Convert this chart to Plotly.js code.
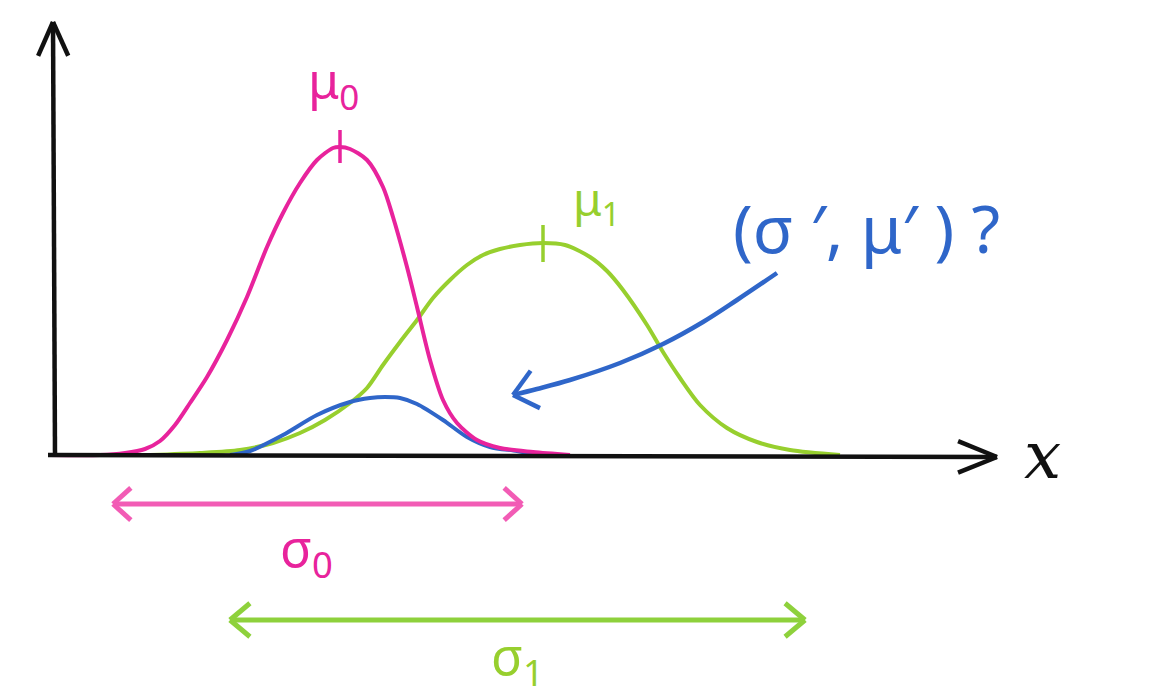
<!DOCTYPE html>
<html>
<head>
<meta charset="utf-8">
<script src="https://cdn.plot.ly/plotly-3.0.1.min.js"></script>
<style>html,body{margin:0;padding:0;background:#fff;}#chart{width:1155px;height:696px;}</style>
</head>
<body>
<div id="chart"></div>
<script>
// ---- values (x position, height above the x axis) ----
const pinkX  = [50, 100, 125, 145, 160, 175, 190, 207, 227, 247, 267, 283, 300, 317, 333, 340, 350, 367, 383, 393, 407, 417, 430, 443, 457, 477, 500, 533, 570];
const pinkY  = [0, 0, 2, 6, 14, 30, 52, 78, 115, 158, 208, 242, 272, 295, 307, 308, 306, 295, 268, 238, 188, 148, 95, 55, 32, 15, 7, 3, 0];

const greenX = [150, 200, 240, 273, 300, 325, 350, 367, 383, 400, 417, 433, 450, 467, 483, 500, 520, 543, 565, 590, 607, 623, 647, 663, 680, 700, 727, 757, 790, 840];
const greenY = [0, 2, 5, 12, 22, 35, 52, 67, 90, 113, 135, 157, 175, 190, 200, 206, 210, 212, 210, 198, 184, 165, 130, 103, 77, 50, 27, 13, 5, 0];

const blueX  = [230, 250, 283, 317, 350, 370, 385, 400, 417, 443, 467, 490, 517, 540];
const blueY  = [0, 4, 20, 40, 53, 57, 58, 57, 51, 35, 18, 8, 4, 0];

const mu0 = 340, mu1 = 543;
const labelMu0 = 'μ<sub>0</sub>';
const labelMu1 = 'μ<sub>1</sub>';
const labelSigma0 = 'σ<sub>0</sub>';
const labelSigma1 = 'σ<sub>1</sub>';
const labelQuestion = '(σ ′, μ′ ) ?';
const labelX = 'x';

// ---- styling ----
const PINK = '#e8239c', GREEN = '#97cf2e', BLUE = '#2f66c9', BLACK = '#111111';
const PINK_LIGHT = '#f25cb5', GREEN_LIGHT = '#8ed13c';
const FONT = 'Noto Sans, DejaVu Sans, sans-serif';

function peakOf(xs, ys, mu) {
  let best = 0, d = Infinity;
  xs.forEach((x, i) => { if (Math.abs(x - mu) < d) { d = Math.abs(x - mu); best = ys[i]; } });
  return best;
}

function line(x0, y0, x1, y1, color, width) {
  return {type: 'line', xref: 'x', yref: 'y', x0, y0, x1, y1,
          line: {color, width}, layer: 'above'};
}
function barbs(tx, ty, fx, fy, len, angDeg, color, width) {
  const a = Math.atan2(fy - ty, fx - tx), r = angDeg * Math.PI / 180;
  return [-1, 1].map(s => line(tx, ty,
    tx + len * Math.cos(a + s * r), ty + len * Math.sin(a + s * r), color, width));
}
function doubleArrow(x0, x1, y, len, ang, color, width) {
  return [line(x0, y, x1, y, color, width),
          ...barbs(x0, y, x1, y, len, ang, color, width),
          ...barbs(x1, y, x0, y, len, ang, color, width)];
}

const shapes = [];
shapes.push(line(48, 0, 997, -2, BLACK, 4.5));
shapes.push(...barbs(997, -2, 48, 0, 42, 22, BLACK, 4.5));
shapes.push(line(55, 0, 53, 433, BLACK, 4.5));
shapes.push(...barbs(53, 433, 55, 0, 37, 24, BLACK, 4.5));
shapes.push(...doubleArrow(113, 522, -49, 24, 42, PINK_LIGHT, 5));
shapes.push(...doubleArrow(230, 805, -165, 26, 40, GREEN_LIGHT, 5));
const p0 = peakOf(pinkX, pinkY, mu0), p1 = peakOf(greenX, greenY, mu1);
shapes.push(line(mu0, p0 - 16, mu0, p0 + 17, PINK, 3.5));
shapes.push(line(mu1, p1 - 19, mu1, p1 + 18, GREEN, 3.5));

// curved pointer arrow
const ptrX = [777, 737, 703, 663, 620, 570, 537, 513];
const ptrY = [182, 155, 133, 111, 92, 75, 66, 60];
shapes.push(...barbs(ptrX[7], ptrY[7], ptrX[6], ptrY[6], 30, 40, BLUE, 4.5));

const traces = [
  {x: greenX, y: greenY, mode: 'lines', line: {color: GREEN, width: 4, shape: 'spline', smoothing: 0.8}, hoverinfo: 'skip'},
  {x: blueX, y: blueY, mode: 'lines', line: {color: BLUE, width: 4, shape: 'spline', smoothing: 0.8}, hoverinfo: 'skip'},
  {x: pinkX, y: pinkY, mode: 'lines', line: {color: PINK, width: 4, shape: 'spline', smoothing: 0.8}, hoverinfo: 'skip'},
  {x: ptrX, y: ptrY, mode: 'lines', line: {color: BLUE, width: 4.5, shape: 'spline', smoothing: 1}, hoverinfo: 'skip'}
];

function label(text, x, y, color, size, family) {
  return {text, x, y, xref: 'x', yref: 'y', showarrow: false,
          font: {color, size, family: family || FONT}, xanchor: 'center', yanchor: 'middle'};
}

const annotations = [
  label(labelMu0, 333, 372, PINK, 50),
  label(labelMu1, 596, 254, GREEN, 46),
  label(labelQuestion, 866, 228, BLUE, 66),
  label(labelSigma0, 306, -95, PINK, 52),
  label(labelSigma1, 517, -203, GREEN, 52),
  label('<i>' + labelX + '</i>', 1042, 0, BLACK, 66, 'DejaVu Serif, serif')
];

const layout = {
  width: 1155, height: 696,
  margin: {l: 0, r: 0, t: 0, b: 0},
  paper_bgcolor: '#ffffff', plot_bgcolor: '#ffffff',
  showlegend: false,
  xaxis: {range: [0, 1155], visible: false, fixedrange: true},
  yaxis: {range: [-241, 455], visible: false, fixedrange: true},
  shapes, annotations
};

Plotly.newPlot('chart', traces, layout, {displayModeBar: false, staticPlot: true});
</script>
</body>
</html>
